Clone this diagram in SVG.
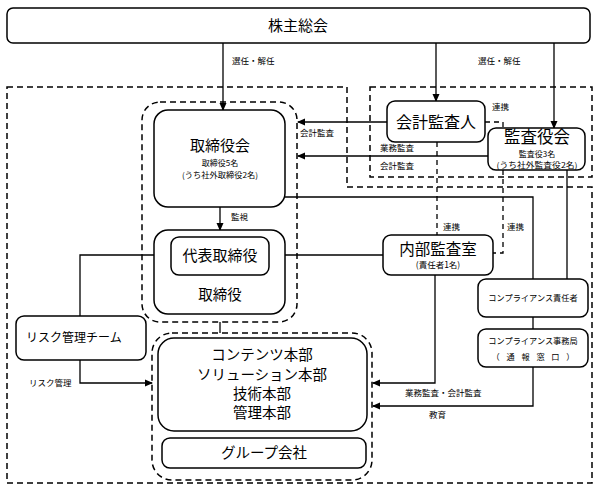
<svg xmlns="http://www.w3.org/2000/svg" width="600" height="492" viewBox="0 0 600 492">
<defs>
<marker id="ah" markerWidth="8" markerHeight="8" refX="7" refY="4" orient="auto" markerUnits="userSpaceOnUse">
<path d="M0,0.5 L8,4 L0,7.5 Z" fill="#000"/>
</marker>
<style>
text{font-family:"Noto Sans CJK JP","Noto Sans",sans-serif;fill:#000}
.box{fill:#fff;stroke:#000;stroke-width:1.5}
.grp{fill:none;stroke:#000;stroke-width:1.5;stroke-dasharray:6,4}
.ln{fill:none;stroke:#000;stroke-width:1.3}
.dl{fill:none;stroke:#000;stroke-width:1.3;stroke-dasharray:5,4}
.arr{fill:none;stroke:#000;stroke-width:1.3;marker-end:url(#ah)}
.c{text-anchor:middle}
.s{font-size:8.5px}
.m{font-size:8px}
</style>
</defs>
<rect width="600" height="492" fill="#fff"/>

<g id="regions">
<path class="grp" d="M7,87 H347 V187 H592 V483 H7 Z"/>
<rect class="grp" x="370" y="87" width="222" height="90"/>
</g>

<g id="connectors">
<line class="arr" x1="223" y1="43" x2="223" y2="110"/>
<line class="arr" x1="436" y1="43" x2="436" y2="101"/>
<line class="arr" x1="554" y1="43" x2="554" y2="128"/>
<line class="arr" x1="387" y1="122" x2="298" y2="122"/>
<line class="arr" x1="488" y1="156" x2="298" y2="156"/>
<line class="arr" x1="220" y1="207" x2="220" y2="230"/>
<polyline class="arr" points="435,275 435,383 373,383"/>
<polyline class="arr" points="533,367 533,406 373,406"/>
<polyline class="arr" points="80,360 80,383 152,383"/>
<line class="ln" x1="269" y1="255" x2="383" y2="255"/>
<polyline class="ln" points="154,255 80,255 80,316"/>
<polyline class="ln" points="285,197 533,197 533,279"/>
<line class="ln" x1="567" y1="170" x2="567" y2="279"/>
<line class="ln" x1="533" y1="317" x2="533" y2="329"/>
<line class="ln" x1="220" y1="322" x2="220" y2="333"/>
<polyline class="dl" points="485,122 503,122 503,128"/>
<line class="dl" x1="437" y1="142" x2="437" y2="235"/>
<polyline class="dl" points="503,170 503,253 493,253"/>
<text class="s" x="232" y="64">選任・解任</text>
<text class="s" x="478" y="64">選任・解任</text>
<text class="s" x="492" y="110">連携</text>
<text class="s" x="300" y="136">会計監査</text>
<text class="s" x="380" y="151">業務監査</text>
<text class="s" x="380" y="169">会計監査</text>
<text class="s" x="231" y="220">監視</text>
<text class="s" x="443" y="230">連携</text>
<text class="s" x="507" y="230">連携</text>
<text class="s" x="29" y="386">リスク管理</text>
<text class="s" x="405" y="396">業務監査・会計監査</text>
<text class="s" x="429" y="418">教育</text>
</g>

<g id="shareholders">
<rect class="box" x="7" y="8" width="583" height="35" rx="6"/>
<text class="c" x="298" y="31" font-size="15">株主総会</text>
</g>

<g id="board-group">
<rect class="grp" x="142" y="102" width="155" height="220" rx="18"/>
</g>

<g id="board">
<rect class="box" x="154" y="110" width="131" height="97" rx="14"/>
<text class="c" x="220" y="151" font-size="15">取締役会</text>
<text class="c m" x="220" y="166">取締役5名</text>
<text class="c m" x="220" y="177.5" textLength="76" lengthAdjust="spacingAndGlyphs">(うち社外取締役2名)</text>
</g>

<g id="directors">
<rect class="box" x="154" y="230" width="131" height="84" rx="14"/>
<text class="c" x="220" y="300" font-size="14.5">取締役</text>
</g>

<g id="representative">
<rect class="box" x="171" y="237" width="98" height="38" rx="8"/>
<text class="c" x="220" y="261" font-size="15">代表取締役</text>
</g>

<g id="accounting-auditor">
<rect class="box" x="387" y="101" width="98" height="41" rx="8"/>
<text class="c" x="436" y="127.5" font-size="16">会計監査人</text>
</g>

<g id="audit-board">
<rect class="box" x="488" y="128" width="97" height="42" rx="8"/>
<text class="c" x="537" y="143" font-size="16.5">監査役会</text>
<text class="c m" x="537" y="156.5">監査役3名</text>
<text class="c m" x="537" y="167.5" textLength="81" lengthAdjust="spacingAndGlyphs">(うち社外監査役2名)</text>
</g>

<g id="internal-audit">
<rect class="box" x="383" y="235" width="110" height="40" rx="8"/>
<text class="c" x="438" y="254.5" font-size="15.5">内部監査室</text>
<text class="c" x="438" y="268" font-size="8.5">(責任者1名)</text>
</g>

<g id="compliance-officer">
<rect class="box" x="478" y="279" width="110" height="38" rx="8"/>
<text class="c" x="533" y="301" font-size="8.2">コンプライアンス責任者</text>
</g>

<g id="compliance-office">
<rect class="box" x="478" y="329" width="110" height="38" rx="8"/>
<text class="c" x="533" y="344" font-size="8.2">コンプライアンス事務局</text>
<text class="c" x="533" y="360" font-size="8.2" textLength="83" lengthAdjust="spacing">（ 通 報 窓 口 ）</text>
</g>

<g id="risk-team">
<rect class="box" x="16" y="316" width="130" height="44" rx="8"/>
<text x="26" y="342" font-size="12">リスク管理チーム</text>
</g>

<g id="operations-group">
<rect class="grp" x="152" y="333" width="220" height="147" rx="20"/>
</g>

<g id="divisions">
<rect class="box" x="158" y="338" width="209" height="93" rx="16"/>
<text class="c" x="262" y="360" font-size="14.5">コンテンツ本部</text>
<text class="c" x="262" y="380" font-size="14.5">ソリューション本部</text>
<text class="c" x="262" y="399" font-size="14.5">技術本部</text>
<text class="c" x="262" y="418" font-size="14.5">管理本部</text>
</g>

<g id="group-companies">
<rect class="box" x="162" y="438" width="204" height="30" rx="8"/>
<text class="c" x="264" y="458" font-size="14.5">グループ会社</text>
</g>
</svg>
